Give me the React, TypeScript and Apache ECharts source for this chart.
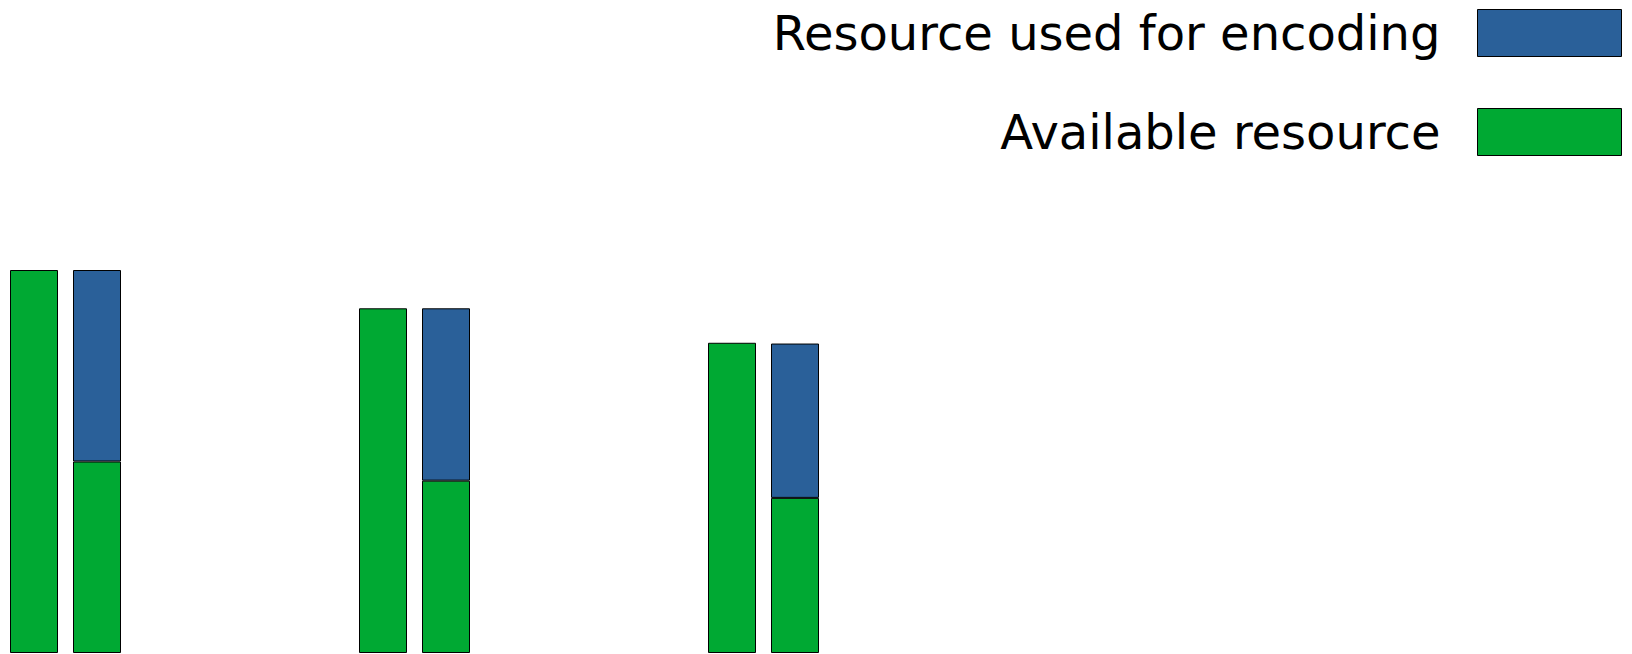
import React, { useEffect, useRef } from "react";
import * as echarts from "echarts";

const groupPositions = [0, 1, 2];
const availableTotal = [1.0, 0.9, 0.81];
const availableRemaining = [0.5, 0.45, 0.405];
const usedForEncoding = [0.5, 0.45, 0.403];
const legendNames = ["Resource used for encoding", "Available resource"];

const GREEN = "#00a933";
const BLUE = "#2a6099";

export default function App() {
  const ref = useRef<HTMLDivElement>(null);
  useEffect(() => {
    if (!ref.current) return;
    const chart = echarts.init(ref.current, undefined, { renderer: "svg" });
    const itemStyle = (c: string) => ({ color: c, borderColor: "#000", borderWidth: 1 });
    // value first so that the value (y) dimension is the stacked one
    const pairs = (vals: number[]) => vals.map((v, i) => [v, groupPositions[i]]);
    const common = {
      type: "bar",
      barWidth: 48,
      barGap: "31.25%",
      encode: { x: 1, y: 0 },
    };
    chart.setOption({
      animation: false,
      backgroundColor: "#ffffff",
      legend: {
        data: legendNames,
        orient: "vertical",
        align: "right",
        right: 10,
        top: 9,
        padding: 0,
        itemWidth: 144,
        itemHeight: 47,
        itemGap: 51,
        icon: "rect",
        textStyle: { fontFamily: "DejaVu Sans", fontSize: 48, color: "#000", padding: [0, 32, 0, 0] },
        itemStyle: { borderColor: "#000", borderWidth: 1 },
        selectedMode: false,
      },
      grid: { left: 0, right: 0, top: 270, bottom: 1 },
      xAxis: {
        type: "value",
        min: -0.18768,
        max: 4.48854,
        show: false,
      },
      yAxis: { type: "value", min: 0, max: 1, show: false },
      series: [
        {
          ...common,
          name: legendNames[1],
          stack: "a",
          data: pairs(availableTotal),
          itemStyle: itemStyle(GREEN),
        },
        {
          ...common,
          name: legendNames[1],
          stack: "b",
          data: pairs(availableRemaining),
          itemStyle: itemStyle(GREEN),
        },
        {
          ...common,
          name: legendNames[0],
          stack: "b",
          data: pairs(usedForEncoding),
          itemStyle: itemStyle(BLUE),
        },
      ],
    });
    return () => chart.dispose();
  }, []);
  return (
    <div
      ref={ref}
      style={{ position: "fixed", left: 0, top: 0, width: 1632, height: 654 }}
    />
  );
}
